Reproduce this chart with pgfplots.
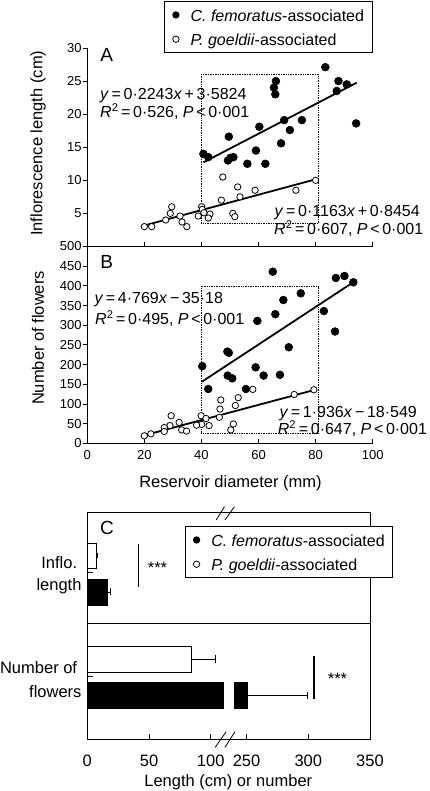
\documentclass[border=0pt]{standalone}
\usepackage{fontspec}
\setmainfont{Liberation Sans}
\usepackage{pgfplots}
\usepackage{pgfplotstable}
\pgfplotsset{compat=1.18}

\pgfplotstableread{
x y
83.4 27.1
88.0 25.0
90.9 24.5
87.4 23.5
94.2 18.6
66.1 25.0
65.4 24.0
65.9 23.0
69.0 19.1
75.2 19.1
71.0 17.6
67.9 15.6
60.3 18.1
59.1 14.5
62.4 12.5
56.1 12.5
49.6 16.6
49.3 13.0
51.2 13.5
50.2 13.4
40.7 14.0
42.4 13.5
}\Afem

\pgfplotstableread{
x y
80.0 10.0
73.1 8.5
58.8 8.5
52.7 9.0
53.5 7.5
47.5 10.5
47.0 7.0
51.0 5.0
51.7 4.5
40.1 6.0
40.3 5.6
38.9 4.6
40.9 5.1
43.0 4.9
42.4 4.3
29.6 6.0
29.1 5.0
27.5 4.0
32.5 4.6
33.2 3.7
34.9 3.0
20.0 3.0
22.6 3.0
}\Agoe

\pgfplotstableread{
x y
65.0 436
87.1 420
90.1 425
93.2 409
74.8 381
68.7 364
65.9 328
59.6 311
82.9 336
86.8 284
70.6 244
49.1 233
49.6 230
40.3 196
59.0 193
49.2 172
50.8 165
61.8 172
67.5 174
42.4 138
55.6 138
}\Bfem

\pgfplotstableread{
x y
79.4 136
72.5 124
58.0 137
52.9 116
51.9 96
46.8 110
46.5 87
46.3 66
51.2 49
50.3 34
39.9 70
41.6 63
40.1 48
38.3 46
42.7 45
29.4 70
29.0 45
32.2 53
27.0 40
27.0 30
33.1 34
34.8 31
20.0 19
22.3 24
}\Bgoe

\newcommand{\tf}{\fontsize{16.5}{19.8}\selectfont}
\newcommand{\ef}{\fontsize{16}{19.2}\selectfont}
\newcommand{\lf}{\fontsize{19}{22}\selectfont}

\pgfplotsset{
  scatterAB/.style={
    scale only axis, xmin=0, xmax=100, width=285.5pt,
    axis x line*=bottom, axis y line*=left,
    axis line style={line width=0.8pt},
    every tick/.style={black, line width=0.8pt},
    major tick length=4.5pt,
    xtick align=inside, ytick align=outside,
    tick label style={font=\fontsize{13}{15}\selectfont},
    /pgf/number format/assume math mode=true,
    yticklabel style={inner xsep=1pt},
    clip=false,
  },
  fem/.style={only marks, mark=*, mark size=3.9pt, black, mark options={fill=black, line width=0.6pt}},
  goe/.style={only marks, mark=*, mark size=3.2pt, black, mark options={fill=white, line width=0.8pt}},
  femleg/.style={only marks, mark=*, mark size=3.2pt, black, mark options={fill=black}},
  goeleg/.style={only marks, mark=*, mark size=3.2pt, black, mark options={fill=white, line width=0.8pt}},
  myleg/.style={
    legend image code/.code={\draw[##1] plot coordinates {(4pt,0pt)};},
    legend cell align=left,
    legend style={draw=black, line width=0.8pt, inner xsep=8pt, inner ysep=3.2pt,
      column sep=11.5pt, row sep=3.6pt,
      nodes={inner sep=0pt, text height=17pt, text depth=3.7pt, font=\ef}},
  },
  reg/.style={black, line width=1.8pt},
  box/.style={black, densely dotted, line width=0.7pt},
}

\begin{document}
\begin{tikzpicture}[x=1pt,y=1pt]
\useasboundingbox (0,0) rectangle (429,791);

% ---------------- Panel A
\begin{axis}[scatterAB, at={(87.2pt,544.5pt)}, anchor=south west, height=198.5pt,
  ymin=0, ymax=30, xtick={20,40,60,80,100}, xticklabels={},
  ytick={5,10,15,20,25,30},
  ylabel={Inflorescence length (cm)},
  ylabel style={font=\tf, at={(axis description cs:-0.1723,0.52)}, anchor=center},
  myleg,
  legend style={at={(axis description cs:0.2701,1.2368)}, anchor=north west}]
\addlegendimage{femleg}
\addlegendentry{\textit{C. femoratus}-associated}
\addlegendimage{goeleg}
\addlegendentry{\textit{P. goeldii}-associated}
\addplot[box] coordinates {(40,3.5) (81,3.5) (81,26) (40,26) (40,3.5)};
\addplot[reg] coordinates {(40.7,12.71) (94.4,24.76)};
\addplot[reg] coordinates {(20,3.17) (80,10.15)};
\addplot[goe] table {\Agoe};
\addplot[fem] table {\Afem};
\end{axis}

% ---------------- Panel B
\begin{axis}[scatterAB, at={(87.2pt,347.7pt)}, anchor=south west, height=196.8pt,
  ymin=0, ymax=500, xtick={0,20,40,60,80,100},
  ytick={0,50,...,500},
  xticklabel style={anchor=base, yshift=-16pt},
  ylabel={Number of flowers},
  ylabel style={font=\tf, at={(axis description cs:-0.1723,0.535)}, anchor=center}]
\addplot[box] coordinates {(40,24) (81,24) (81,400) (40,400) (40,24)};
\addplot[reg] coordinates {(40.2,156.5) (94.4,415.0)};
\addplot[reg] coordinates {(20,20.2) (80,136.3)};
\addplot[goe] table {\Bgoe};
\addplot[fem] table {\Bfem};
\end{axis}

% ---------------- Panel C
\begin{axis}[scale only axis, at={(87.3pt,52pt)}, anchor=south west,
  width=282.7pt, height=227pt,
  xmin=0, xmax=229, ymin=0, ymax=227, clip=false,
  axis line style={line width=0.8pt},
  every tick/.style={black, line width=0.8pt},
  tick align=inside, major tick length=5.3pt,
  xtick={0,50,100,129,179,229}, xticklabels={0,50,100,250,300,350},
  xtick pos=bottom, ytick pos=left,
  ytick={62.3,166.3}, yticklabels={},
  xticklabel style={font=\tf, anchor=base, yshift=-27.7pt},
  myleg,
  legend style={at={(axis description cs:0.3456,0.9383)}, anchor=north west}]
\addlegendimage{femleg}
\addlegendentry{\textit{C. femoratus}-associated}
\addlegendimage{goeleg}
\addlegendentry{\textit{P. goeldii}-associated}
% divider
\addplot[black, line width=0.8pt] coordinates {(0,116) (229,116)};
% Inflo. length
\addplot[black, line width=0.8pt] coordinates {(7.05,183) (8.1,183)};
\addplot[black, line width=0.8pt] coordinates {(8.1,180.5) (8.1,186.3)};
\addplot[fill=white, draw=black, line width=0.8pt] coordinates {(0,170.5) (7.05,170.5) (7.05,195.7) (0,195.7) (0,170.5)};
\addplot[black, line width=0.8pt] coordinates {(16.5,147) (19,147)};
\addplot[black, line width=0.8pt] coordinates {(19,143.5) (19,150.5)};
\addplot[fill=black, draw=black, line width=0.8pt] coordinates {(0,134) (16.5,134) (16.5,159.7) (0,159.7) (0,134)};
\addplot[black, line width=1.2pt] coordinates {(41.3,152.3) (41.3,195)};
% Number of flowers
\addplot[black, line width=0.8pt] coordinates {(84.6,79.7) (104,79.7)};
\addplot[black, line width=0.8pt] coordinates {(104,76.3) (104,84)};
\addplot[fill=white, draw=black, line width=0.8pt] coordinates {(0,67) (84.6,67) (84.6,92.3) (0,92.3) (0,67)};
\addplot[black, line width=0.8pt] coordinates {(129.9,43.7) (178.5,43.7)};
\addplot[black, line width=0.8pt] coordinates {(178.5,40) (178.5,47.3)};
\addplot[fill=black, draw=black, line width=0.8pt] coordinates {(0,30.7) (110.2,30.7) (110.2,56.7) (0,56.7) (0,30.7)};
\addplot[fill=black, draw=black, line width=0.8pt] coordinates {(119.1,30.7) (129.9,30.7) (129.9,56.7) (119.1,56.7) (119.1,30.7)};
\addplot[black, line width=1.2pt] coordinates {(183.6,40) (183.6,83)};
% axis breaks
\addplot[black, line width=0.8pt] coordinates {(104.4,219) (111.1,232.3)};
\addplot[black, line width=0.8pt] coordinates {(111.5,219) (119.1,232.3)};
\addplot[black, line width=0.8pt] coordinates {(103.6,-8.3) (112.5,7.3)};
\addplot[black, line width=0.8pt] coordinates {(111.5,-8.3) (119.6,7.3)};
\end{axis}

% ---------------- texts
\node[font=\lf] at (106.7,736) {A};
\node[font=\lf] at (106.7,529.3) {B};
\node[font=\lf] at (107,262.7) {C};

\node[font=\ef, anchor=base west, inner sep=0pt] at (100,691) {\textit{y}\,=\,0·2243\textit{x}\,+\,3·5824};
\node[font=\ef, anchor=base west, inner sep=0pt] at (100,673.7) {\textit{R}\textsuperscript{2}\,=\,0·526, \textit{P}\,<\,0·001};
\node[font=\ef, anchor=base west, inner sep=0pt] at (274.5,574.3) {\textit{y}\,=\,0·1163\textit{x}\,+\,0·8454};
\node[font=\ef, anchor=base west, inner sep=0pt] at (274,556.7) {\textit{R}\textsuperscript{2}\,=\,0·607, \textit{P}\,<\,0·001};

\node[font=\ef, anchor=base west, inner sep=0pt] at (94.3,487.7) {\textit{y}\,=\,4·769\textit{x}\,−\,35·18};
\node[font=\ef, anchor=base west, inner sep=0pt] at (95,466) {\textit{R}\textsuperscript{2}\,=\,0·495, \textit{P}\,<\,0·001};
\node[font=\ef, anchor=base west, inner sep=0pt] at (279.3,373.3) {\textit{y}\,=\,1·936\textit{x}\,−\,18·549};
\node[font=\ef, anchor=base west, inner sep=0pt] at (277.7,356) {\textit{R}\textsuperscript{2}\,=\,0·647, \textit{P}\,<\,0·001};

\node[font=\tf, anchor=base] at (230.5,303.7) {Reservoir diameter (mm)};
\node[font=\tf, anchor=base] at (228.3,4.3) {Length (cm) or number};

\node[font=\tf, anchor=base east, inner sep=0pt] at (77.3,222.7) {Inflo.};
\node[font=\tf, anchor=base east, inner sep=0pt] at (81.7,200) {length};
\node[font=\tf, anchor=base east, inner sep=0pt] at (77.3,117) {Number of};
\node[font=\tf, anchor=base east, inner sep=0pt] at (81.7,93.7) {flowers};

\node[font=\tf, anchor=base, inner sep=0pt] at (157.5,217.5) {***};
\node[font=\tf, anchor=base, inner sep=0pt] at (337.5,106.5) {***};
\end{tikzpicture}
\end{document}
